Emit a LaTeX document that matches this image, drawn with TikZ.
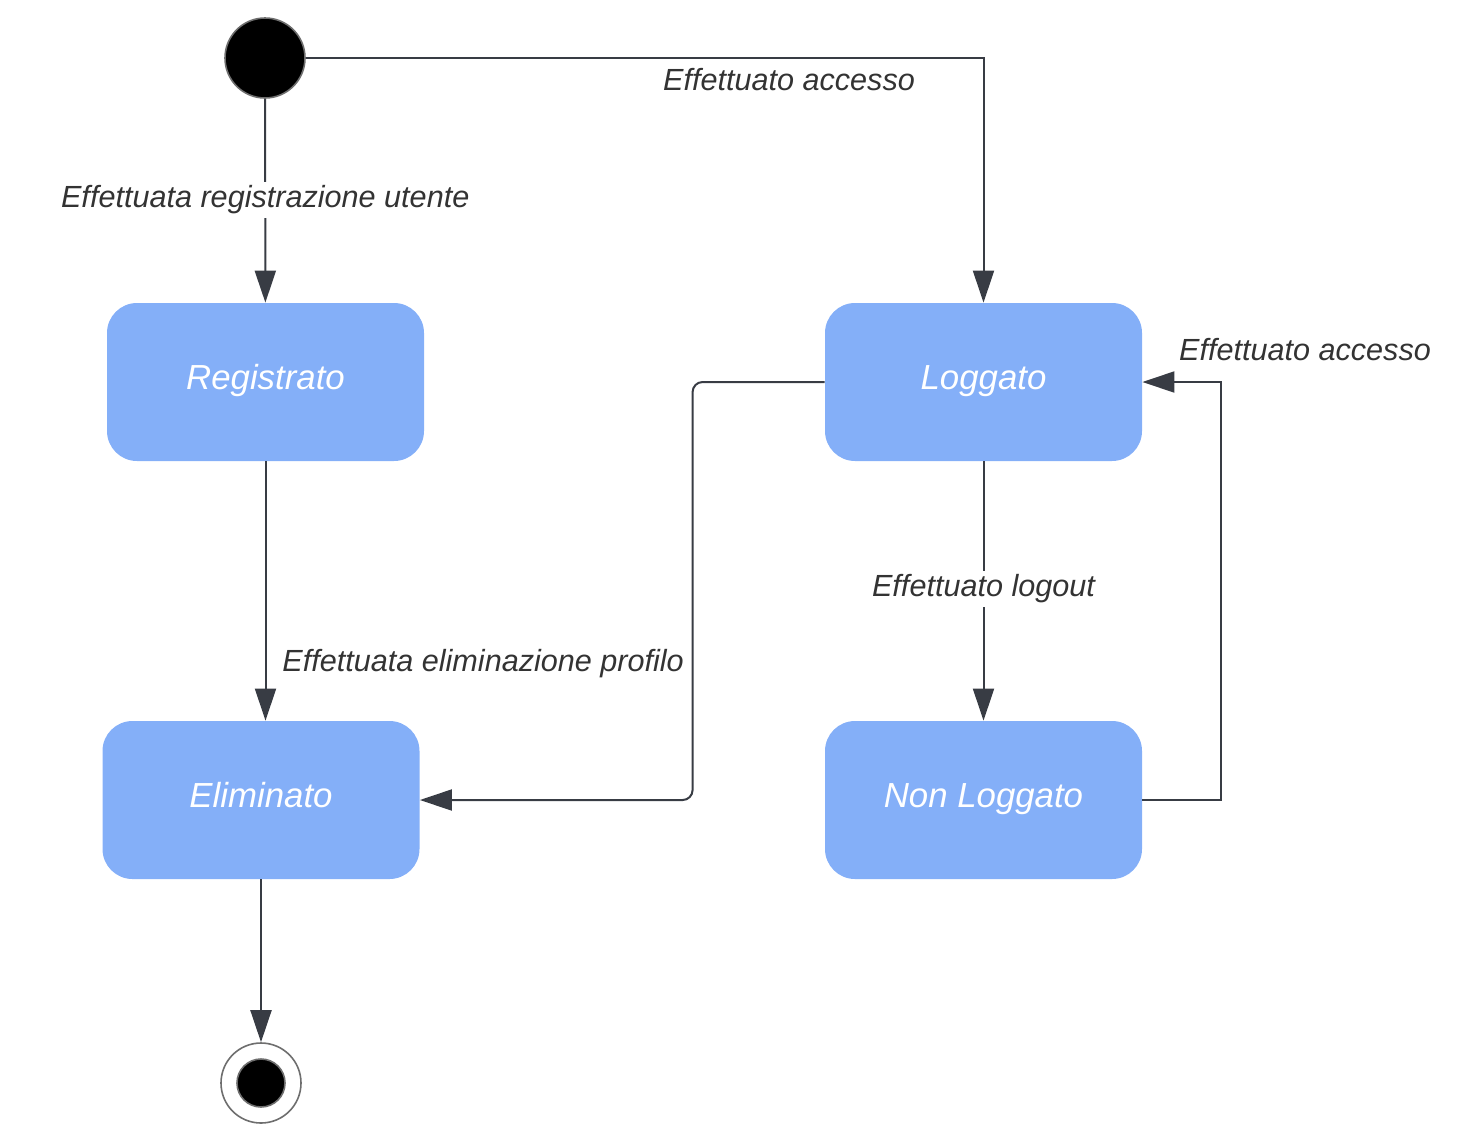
\documentclass[tikz,border=0pt]{standalone}
\usepackage{fontspec}
\setmainfont{Liberation Sans}
\usetikzlibrary{arrows.meta}
\definecolor{stateblue}{HTML}{84AFF8}
\definecolor{edgecol}{HTML}{383C44}
\definecolor{labcol}{HTML}{333333}
\definecolor{rimcol}{HTML}{6E6E6E}
\begin{document}
\begin{tikzpicture}[x=0.5pt,y=-0.5pt,
  statebox/.style={draw=none,fill=stateblue,rounded corners=15pt,minimum width=158.5pt,minimum height=79pt,
    text=white,font=\fontsize{17.4}{20}\selectfont\itshape,inner sep=0pt,text height=12pt,text depth=4.8pt},
  startnode/.style={circle,fill=black,draw=rimcol,line width=0.8pt,minimum size=40pt,inner sep=0pt},
  endouter/.style={circle,fill=white,draw=rimcol,line width=0.8pt,minimum size=40pt,inner sep=0pt},
  endinner/.style={circle,fill=black,draw=rimcol,line width=0.8pt,minimum size=24pt,inner sep=0pt},
  arr/.style={draw=edgecol,line width=1pt,-{Triangle[length=16pt,width=10.5pt]}},
  lab/.style={text=labcol,font=\fontsize{15.3}{18}\selectfont\itshape,inner sep=2pt},
  onlab/.style={lab,fill=white,yshift=-1.6pt}]
\useasboundingbox (0,0) rectangle (1460,1146);
\node[statebox] (reg) at (265.5,382) {Registrato};
\node[statebox] (log) at (983.5,382) {Loggato};
\node[statebox] (eli) at (261,800) {Eliminato};
\node[statebox] (non) at (983.5,800) {Non Loggato};
\node[startnode] (start) at (265,58) {};
\node[endouter] (end) at (261,1083) {};
\node[endinner] (endin) at (261,1083) {};
\draw[arr] (start) -- node[onlab,pos=0.48] (l1) {Effettuata registrazione utente} (reg);
\draw[arr] (start.east) -| (log.north);
\node[lab] (l2) at (789,80) {Effettuato accesso};
\draw[arr] (reg.south) -- (reg.south |- eli.north);
\node[lab,anchor=west,yshift=-1.6pt] (l3) at (278,660) {Effettuata eliminazione profilo};
\draw[arr,rounded corners=5pt] (log.west) -- ++(-132,0) |- (eli.east);
\draw[arr] (log) -- node[onlab,pos=0.48] (l4) {Effettuato logout} (non);
\draw[arr] (non.east) -- ++(79,0) |- (log.east);
\node[lab] (l5) at (1305,350) {Effettuato accesso};
\draw[arr] (eli) -- (end);
\end{tikzpicture}
\end{document}
